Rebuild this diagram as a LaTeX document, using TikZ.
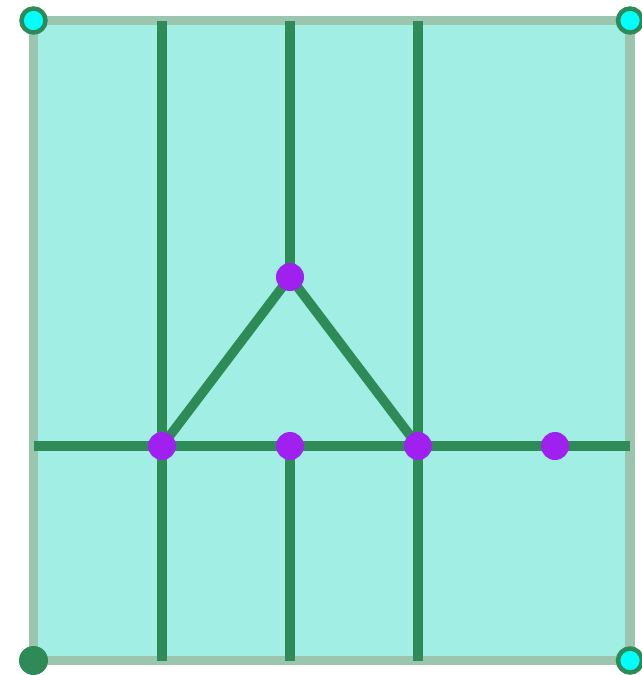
\documentclass[tikz,border=0pt]{standalone}
\usepackage{xcolor}
\definecolor{panel}{RGB}{160, 238, 228}
\definecolor{rim}{RGB}{155, 197, 174}
\definecolor{rail}{RGB}{46, 139, 87}
\definecolor{joint}{RGB}{160, 32, 240}
\definecolor{corner}{RGB}{0, 255, 255}

\begin{document}
\begin{tikzpicture}[x=1pt, y=-1pt]

\useasboundingbox (0,0) rectangle (642,675);

\coordinate (TL) at (33.5,20.5);
\coordinate (TR) at (630,20.5);
\coordinate (BR) at (630,660.5);
\coordinate (BL) at (33.5,660.5);

\draw[rim, fill=panel, line width=9.5] (TL) -- (TR) -- (BR) -- (BL) -- cycle;

\coordinate (A) at (162,446);
\coordinate (M) at (290,446);
\coordinate (B) at (418,446);
\coordinate (E) at (555,446);
\coordinate (P) at (290,277);

\draw[rail, line width=9.5] (33.5,446) -- (630,446);
\draw[rail, line width=9.5] (162,20.5) -- (162,660.5);
\draw[rail, line width=9.5] (418,20.5) -- (418,660.5);
\draw[rail, line width=9.5] (290,20.5) -- (P);
\draw[rail, line width=9.5] (M) -- (290,660.5);
\draw[rail, line width=9.5] (A) -- (P) -- (B);

\fill[joint] (P) circle (14);
\fill[joint] (A) circle (14);
\fill[joint] (M) circle (14);
\fill[joint] (B) circle (14);
\fill[joint] (E) circle (14);

\draw[rail, fill=corner, line width=4.5] (TL) circle (12);
\draw[rail, fill=corner, line width=4.5] (TR) circle (12);
\draw[rail, fill=corner, line width=4.5] (BR) circle (12);
\fill[rail] (BL) circle (14.5);

\end{tikzpicture}
\end{document}
